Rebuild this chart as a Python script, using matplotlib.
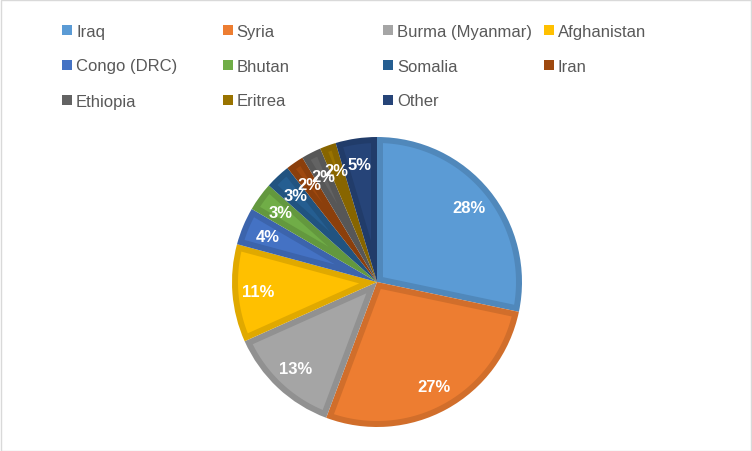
import matplotlib
matplotlib.use("Agg")
import numpy as np
import matplotlib.pyplot as plt
from matplotlib.patches import Rectangle, Polygon
import matplotlib.colors as mcolors

countries = ["Iraq", "Syria", "Burma (Myanmar)", "Afghanistan", "Congo (DRC)",
             "Bhutan", "Somalia", "Iran", "Ethiopia", "Eritrea", "Other"]
shares = [28.3, 27.4, 12.6, 10.9, 4.2, 3.2, 2.8, 2.0, 2.2, 1.8, 4.6]
colors = ["#5B9BD5", "#ED7D31", "#A5A5A5", "#FFC000", "#4472C4", "#70AD47",
          "#255E91", "#9E480E", "#636363", "#997300", "#264478"]

W, H = 752, 452
fig = plt.figure(figsize=(W / 100, H / 100), dpi=100)
ax = fig.add_axes([0, 0, 1, 1])

def darker(c, f=0.88):
    r, g, b = mcolors.to_rgb(c)
    return (r * f, g * f, b * f)

cx, cy, R = 377, H - 283, 145
band = 6
wedges, texts, autotexts = ax.pie(
    shares, colors=[darker(c) for c in colors], startangle=90, counterclock=False,
    center=(cx, cy), radius=R, autopct=lambda p: f"{p:.0f}%", pctdistance=0.82,
    textprops=dict(color="white", fontsize=12, fontweight="bold", family="Liberation Sans"),
    wedgeprops=dict(linewidth=0),
)
# lighter inner face, inset by the band width
rho = R - band
for w, c in zip(wedges, colors):
    a1, a2 = np.radians(w.theta1), np.radians(w.theta2)
    half = (a2 - a1) / 2
    da = np.arcsin(band / rho)
    if a2 - a1 <= 2 * da:
        continue
    s = band / np.sin(half)
    mid = (a1 + a2) / 2
    apex = (cx + s * np.cos(mid), cy + s * np.sin(mid))
    th = np.linspace(a1 + da, a2 - da, 100)
    pts = [apex] + list(zip(cx + rho * np.cos(th), cy + rho * np.sin(th)))
    ax.add_patch(Polygon(pts, closed=True, facecolor=c, edgecolor="none", zorder=w.get_zorder() + 0.1))
for t in autotexts:
    t.set_zorder(5)

ax.set_xlim(0, W)
ax.set_ylim(0, H)
ax.set_aspect("equal")
ax.axis("off")

# chart border
ax.add_patch(Rectangle((0.5, 0.5), W - 1, H - 1, fill=False, edgecolor="#D9D9D9", lw=1))

# legend
col_x = [67, 227.5, 388, 549]
row_y = [31, 66, 101]
for i, (name, c) in enumerate(zip(countries, colors)):
    r, k = divmod(i, 4)
    x = col_x[k]
    y = H - row_y[r]
    ax.add_patch(Rectangle((x - 5, y - 5), 10, 10, facecolor=c, edgecolor="none"))
    ax.text(x + 9, y - 1, name, fontsize=12, color="#595959", va="center", ha="left",
            family=["Liberation Sans", "DejaVu Sans"])

fig.savefig("out.png", dpi=100)
